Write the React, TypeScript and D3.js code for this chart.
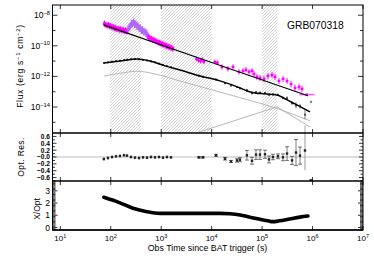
import React from "react";
import * as d3 from "d3";

// ---------- data (time in s, flux as log10 erg s^-1 cm^-2) ----------
const xrayEarly: [number, number][] = [
  [75, -8.55], [80, -8.62], [85, -8.68], [90, -8.64], [95, -8.72], [100, -8.7], [106, -8.8], [112, -8.76],
  [118, -8.85], [125, -8.82], [132, -8.9], [140, -8.88], [148, -8.95], [156, -8.92], [165, -8.98], [175, -8.95],
  [185, -9.02], [196, -9.0], [208, -9.05],
  [540, -9.35], [570, -9.45], [600, -9.5], [640, -9.55], [680, -9.6], [720, -9.62], [770, -9.7], [820, -9.72],
  [870, -9.78], [930, -9.8], [990, -9.86], [1060, -9.9], [1130, -9.92], [1210, -9.98], [1290, -10.0],
  [1380, -10.06], [1480, -10.08], [1580, -10.14], [1700, -10.18],
];
const xrayFlare: [number, number][] = [
  [220, -8.92], [232, -8.78], [245, -8.7], [258, -8.55], [270, -8.55], [284, -8.46], [298, -8.58], [313, -8.57],
  [330, -8.72], [347, -8.7], [365, -8.85], [385, -8.86], [405, -8.98], [427, -8.97], [450, -9.08], [474, -9.07],
  [498, -9.17], [520, -9.2],
];
const xrayLate: [number, number, number][] = [
  [5000, -10.85, 0.15], [5500, -10.95, 0.15], [6000, -11.0, 0.15], [6500, -10.9, 0.15], [7000, -11.05, 0.15],
  [11600, -11.05, 0.15], [13000, -11.1, 0.15], [16000, -11.38, 0.18], [21000, -11.5, 0.18], [26500, -11.38, 0.18],
  [34800, -11.7, 0.18], [41800, -11.64, 0.18], [47800, -11.57, 0.18], [55000, -11.7, 0.18], [63000, -11.64, 0.18],
  [69000, -11.84, 0.2], [79000, -12.03, 0.2], [91000, -12.1, 0.2], [109000, -12.16, 0.2], [131000, -11.97, 0.2],
  [157000, -11.9, 0.2], [180000, -12.03, 0.2], [216000, -12.3, 0.2], [260000, -12.16, 0.2], [312000, -12.3, 0.2],
  [374000, -12.5, 0.22], [449000, -12.75, 0.22], [539000, -12.69, 0.22], [618000, -12.82, 0.22], [776000, -13.2, 0.1],
];
const opticalPoints: [number, number, number][] = [
  [73, -11.12, 0.04], [88, -11.08, 0.04], [106, -11.03, 0.04], [127, -11.0, 0.04], [152, -10.97, 0.04],
  [183, -10.93, 0.04], [210, -10.9, 0.04], [252, -10.88, 0.04], [302, -10.87, 0.04], [363, -10.88, 0.04],
  [436, -10.92, 0.04], [523, -10.96, 0.04], [627, -11.02, 0.04], [753, -11.08, 0.04], [904, -11.16, 0.04],
  [1085, -11.24, 0.04], [1300, -11.32, 0.04], [1563, -11.4, 0.04],
  [5600, -11.95, 0.04], [6700, -12.02, 0.04], [12200, -12.2, 0.05], [18400, -12.45, 0.05], [24200, -12.6, 0.05],
  [31800, -12.7, 0.05], [36400, -12.78, 0.06], [50000, -12.9, 0.08], [63000, -13.1, 0.08], [75700, -13.03, 0.08],
  [90800, -13.06, 0.08], [114000, -13.08, 0.08], [137000, -13.2, 0.08], [164000, -13.18, 0.08], [206000, -13.2, 0.08],
  [259000, -13.4, 0.1], [312000, -13.42, 0.12], [392000, -13.75, 0.12], [470000, -13.9, 0.2], [564000, -13.95, 0.15],
  [708000, -14.5, 0.3],
];
const opticalOutlier: [number, number, number][] = [[931000, -13.67, 0.08]];
const xrayModel: [number, number][] = [[72, -8.63], [10000, -11.09], [810000, -13.27]];
const opticalModel: [number, number][] = [
  [73, -11.12], [152, -10.99], [331, -10.86], [600, -10.99], [1190, -11.31], [2360, -11.58], [5870, -11.97],
  [14600, -12.29], [36400, -12.75], [50000, -12.95], [72000, -13.08], [114000, -13.14], [197000, -13.21],
  [284000, -13.46], [449000, -13.8], [889000, -14.32],
];
const componentDecay: [number, number][] = [
  [73, -11.97], [150, -11.8], [331, -11.66], [800, -11.86], [2360, -12.3], [20000, -13.15], [197000, -14.1], [889000, -14.9],
];
const componentRise: [number, number][] = [[5100, -15.69], [197000, -13.99], [889000, -15.3]];
const residualsEarly: [number, number][] = [
  [73, -0.06], [88, -0.03], [106, 0.0], [127, 0.02], [152, 0.03], [183, 0.05], [210, 0.04], [252, 0.0],
  [302, -0.02], [363, -0.03], [436, -0.01], [523, -0.02], [627, 0.0], [753, -0.01], [904, 0.0], [1085, -0.02],
  [1300, 0.0], [1563, -0.01],
];
const residualsLate: [number, number, number][] = [
  [5600, -0.01, 0.02], [6700, -0.01, 0.02], [12200, 0.05, 0.03], [18400, -0.05, 0.04], [24200, -0.13, 0.03],
  [31800, -0.1, 0.05], [36400, -0.08, 0.06], [50000, 0.05, 0.14], [63000, -0.11, 0.1], [75700, 0.07, 0.14],
  [90800, 0.07, 0.14], [114000, 0.08, 0.12], [137000, -0.07, 0.1], [164000, 0.0, 0.08], [206000, 0.02, 0.07],
  [259000, -0.01, 0.1], [312000, 0.1, 0.2], [392000, -0.1, 0.12], [470000, 0.13, 0.38], [564000, 0.04, 0.25],
];
const residualGray: [number, number, number][] = [[708000, 0.19, 0.57]];
const residualLow: [number, number][] = [[931000, -0.68]];
const ratioCurve: [number, number][] = [
  [73, 2.47], [152, 2.02], [276, 1.57], [523, 1.29], [946, 1.16], [3720, 1.16], [14600, 1.16], [23000, 1.12],
  [36400, 1.02], [57000, 0.85], [90800, 0.68], [131000, 0.55], [164000, 0.48], [220000, 0.55], [350000, 0.7],
  [564000, 0.85], [810000, 0.94],
];
const shadedIntervals: [number, number][] = [[97, 397], [990, 10000], [100000, 200000]];
const timeTickExps = [1, 2, 3, 4, 5, 6, 7];
const fluxTickExps = [-8, -10, -12, -14];
const resTicks = [0.6, 0.4, 0.2, 0, -0.2, -0.4, -0.6];
const resTickLabels = ["0.6", "0.4", "0.2", "−0.0", "−0.2", "−0.4", "−0.6"];
const ratioTicks = [0, 1, 2, 3];

const L = 52.5, R = 363, T = 5, B1 = 133, B2 = 181, B3 = 230;
const FONT = "'Liberation Sans', Arial, Helvetica, sans-serif";
const MAG = "#ff00ff";
const PUR = "#b266ff";

export default function App() {
  const x = d3.scaleLog().domain([7, 1e7]).range([L, R]);
  const yF = d3.scaleLog().domain([10 ** -15.7, 10 ** -7.33]).range([B1, T]);
  const yR = d3.scaleLinear().domain([-0.7, 0.7]).range([B2, B1]);
  const yX = d3.scaleLinear().domain([-0.2, 3.8]).range([B3, B2]);

  const fl = (v: number) => yF(10 ** v);
  const smooth = d3.line<[number, number]>().x(d => x(d[0])).y(d => fl(d[1])).curve(d3.curveMonotoneX);
  const straight = d3.line<[number, number]>().x(d => x(d[0])).y(d => fl(d[1]));
  const ratioLine = d3.line<[number, number]>().x(d => x(d[0])).y(d => yX(d[1])).curve(d3.curveMonotoneX);

  const errPt = (t: number, v: number, e: number, exd: number, color: string, sw: number, sz: number, key: string) => {
    const cx = x(t), cy = fl(v);
    const x0 = x(t / 10 ** exd), x1 = x(t * 10 ** exd);
    return (
      <g key={key} stroke={color} strokeWidth={sw} fill={color}>
        <line x1={cx} x2={cx} y1={fl(v + e)} y2={fl(v - e)} />
        <line x1={x0} x2={x1} y1={cy} y2={cy} />
        <rect x={cx - sz / 2} y={cy - sz / 2} width={sz} height={sz} stroke="none" />
      </g>
    );
  };

  const minorFlux = d3.range(-15, -7);
  const resMinor = d3.range(-6, 7).map(d => d / 10);
  const ratioMinor = d3.range(-2, 39).map(d => d / 10);

  return (
    <svg width={374} height={267} style={{ position: "absolute", left: 0, top: 0, background: "#fff" }} fontFamily={FONT}>
      <defs>
        <pattern id="hatch" patternUnits="userSpaceOnUse" width="3" height="3">
          <path d="M-0.75,0.75 L0.75,-0.75 M0,3 L3,0 M2.25,3.75 L3.75,2.25" stroke="#a0a0a0" strokeWidth="0.45" />
        </pattern>
        <clipPath id="cTop"><rect x={L} y={T} width={R - L} height={B1 - T} /></clipPath>
        <clipPath id="cMid"><rect x={L} y={B1} width={R - L} height={B2 - B1} /></clipPath>
        <clipPath id="cBot"><rect x={L} y={B2} width={R - L} height={B3 - B2} /></clipPath>
      </defs>
      <rect width={374} height={267} fill="#fff" />

      {/* shaded intervals */}
      {shadedIntervals.map(([a, b], i) => (
        <rect key={i} x={x(a)} y={T} width={x(b) - x(a)} height={B1 - T} fill="url(#hatch)" />
      ))}

      {/* top panel */}
      <g clipPath="url(#cTop)">
        <path d={smooth(componentDecay)!} fill="none" stroke="#b0b0b0" strokeWidth={0.9} />
        <path d={straight(componentRise)!} fill="none" stroke="#b0b0b0" strokeWidth={0.9} />
        {xrayEarly.map((d, i) => errPt(d[0], d[1], 0.2, 0.025, MAG, 1.2, 3, "xe" + i))}
        {xrayFlare.map((d, i) => errPt(d[0], d[1], 0.25, 0.025, PUR, 1.2, 3, "xf" + i))}
        {xrayLate.map((d, i) => errPt(d[0], d[1], d[2], i === xrayLate.length - 1 ? 0.15 : 0.03, MAG, 0.9, 2.4, "xl" + i))}
        <path d={straight(xrayModel)!} fill="none" stroke="#000" strokeWidth={1.1} />
        {opticalPoints.map((d, i) => errPt(d[0], d[1], d[2], 0.01, "#444", 0.7, 1.8, "op" + i))}
        {opticalOutlier.map((d, i) => errPt(d[0], d[1], d[2], 0.01, "#888", 0.8, 2.2, "oo" + i))}
        <line x1={x(708000)} x2={x(708000)} y1={fl(-15.2)} y2={B1} stroke="#aaa" strokeWidth={1} />
        <path d={smooth(opticalModel)!} fill="none" stroke="#000" strokeWidth={1.5} />
      </g>
      <text x={287} y={28.5} fontSize={10.3} fill="#000">GRB070318</text>

      {/* middle panel */}
      <g clipPath="url(#cMid)">
        <line x1={L} x2={R} y1={yR(0)} y2={yR(0)} stroke="#aaa" strokeWidth={0.8} />
        {residualsEarly.map((d, i) => (
          <g key={"re" + i}>
            <line x1={x(d[0])} x2={x(d[0])} y1={yR(d[1]) - 1.5} y2={yR(d[1]) + 1.5} stroke="#333" strokeWidth={0.6} />
            <rect x={x(d[0]) - 1.2} y={yR(d[1]) - 1.2} width={2.4} height={2.4} fill="#222" />
          </g>
        ))}
        {residualsLate.map((d, i) => {
          const cx = x(d[0]);
          return (
            <g key={"rl" + i} stroke="#222" strokeWidth={0.6}>
              <line x1={cx} x2={cx} y1={yR(d[1] + d[2])} y2={yR(d[1] - d[2])} />
              <line x1={cx - 2} x2={cx + 2} y1={yR(d[1] + d[2])} y2={yR(d[1] + d[2])} />
              <line x1={cx - 2} x2={cx + 2} y1={yR(d[1] - d[2])} y2={yR(d[1] - d[2])} />
              <rect x={cx - 1.2} y={yR(d[1]) - 1.2} width={2.4} height={2.4} fill="#222" stroke="none" />
            </g>
          );
        })}
        {residualGray.map((d, i) => {
          const cx = x(d[0]);
          return (
            <g key={"rg" + i}>
              <line x1={cx} x2={cx} y1={yR(d[1] + d[2])} y2={yR(d[1] - d[2])} stroke="#aaa" strokeWidth={1.2} />
              <rect x={cx - 1.2} y={yR(d[1]) - 1.2} width={2.4} height={2.4} fill="#222" />
            </g>
          );
        })}
        {residualLow.map((d, i) => (
          <rect key={"rlw" + i} x={x(d[0]) - 1.5} y={yR(d[1]) - 1.2} width={3} height={2.4} fill="#222" />
        ))}
      </g>

      {/* bottom panel */}
      <g clipPath="url(#cBot)">
        <path d={ratioLine(ratioCurve)!} fill="none" stroke="#000" strokeWidth={3.6} strokeLinecap="round" />
      </g>

      {/* frames */}
      <rect x={L} y={T} width={R - L} height={B3 - T} fill="none" stroke="#000" strokeWidth={1} />
      <line x1={L} x2={R} y1={B1} y2={B1} stroke="#000" strokeWidth={1.6} />
      <line x1={L} x2={R} y1={B2} y2={B2} stroke="#000" strokeWidth={1.6} />
      <line x1={L} x2={R} y1={B3} y2={B3} stroke="#000" strokeWidth={1.4} />

      {/* x ticks */}
      {timeTickExps.map(k => {
        const px = x(10 ** k);
        return (
          <g key={"xt" + k} stroke="#000" strokeWidth={0.8}>
            <line x1={px} x2={px} y1={T} y2={T + 4} />
            <line x1={px} x2={px} y1={B1} y2={B1 - 4} />
            <line x1={px} x2={px} y1={B1} y2={B1 + 4} />
            <line x1={px} x2={px} y1={B2} y2={B2 - 4} />
            <line x1={px} x2={px} y1={B2} y2={B2 + 4} />
            <line x1={px} x2={px} y1={B3} y2={B3 - 4} />
          </g>
        );
      })}
      {timeTickExps.map(k => (
        <text key={"xl" + k} x={x(10 ** k)} y={241} fontSize={8} textAnchor="middle" fill="#000">
          10<tspan dy={-3.5} fontSize={5.5}>{k}</tspan>
        </text>
      ))}
      <text x={207.5} y={250.5} fontSize={8.8} textAnchor="middle" fill="#000">Obs Time since BAT trigger (s)</text>

      {/* top y ticks */}
      {minorFlux.map(k => {
        const py = fl(k);
        const len = k % 2 === 0 ? 5 : 3;
        return (
          <g key={"yf" + k} stroke="#000" strokeWidth={0.8}>
            <line x1={L} x2={L + len} y1={py} y2={py} />
            <line x1={R} x2={R - len} y1={py} y2={py} />
          </g>
        );
      })}
      {fluxTickExps.map(k => (
        <text key={"yfl" + k} x={50} y={fl(k) + 3} fontSize={8.5} textAnchor="end" fill="#000">
          10<tspan dy={-3.5} fontSize={5.8}>{"−" + Math.abs(k)}</tspan>
        </text>
      ))}
      <text transform={`translate(23,${66}) rotate(-90)`} fontSize={8.5} textAnchor="middle" fill="#000" letterSpacing={0.7}>
        Flux  (erg  s<tspan dy={-3} fontSize={6}>−1</tspan><tspan dy={3}>  cm</tspan><tspan dy={-3} fontSize={6}>−2</tspan><tspan dy={3}>)</tspan>
      </text>

      {/* middle y ticks */}
      {resMinor.map((v, i) => {
        const py = yR(v);
        const major = Math.round(v * 10) % 2 === 0;
        const len = major ? 4 : 2.5;
        return (
          <g key={"rm" + i} stroke="#000" strokeWidth={0.8}>
            <line x1={L} x2={L + len} y1={py} y2={py} />
            <line x1={R} x2={R - len} y1={py} y2={py} />
          </g>
        );
      })}
      {resTicks.map((v, i) => (
        <text key={"rt" + i} x={50} y={yR(v) + 2.4} fontSize={6.6} textAnchor="end" fill="#000" fontWeight="bold">{resTickLabels[i]}</text>
      ))}
      <text transform={`translate(23.5,157) rotate(-90)`} fontSize={8.5} textAnchor="middle" fill="#000" letterSpacing={0.4}>Opt.  Res.</text>

      {/* bottom y ticks */}
      {ratioMinor.map((v, i) => {
        const py = yX(v);
        const major = Math.abs(v - Math.round(v)) < 1e-6;
        const len = major ? 5 : 3;
        return (
          <g key={"xm" + i} stroke="#000" strokeWidth={0.8}>
            <line x1={L} x2={L + len} y1={py} y2={py} />
            <line x1={R} x2={R - len} y1={py} y2={py} />
          </g>
        );
      })}
      {ratioTicks.map(v => (
        <text key={"xr" + v} x={50} y={yX(v) + 3} fontSize={8.5} textAnchor="end" fill="#000">{v}</text>
      ))}
      <text transform={`translate(39.5,209) rotate(-90)`} fontSize={8.5} textAnchor="middle" fill="#000">X/Opt</text>
    </svg>
  );
}
